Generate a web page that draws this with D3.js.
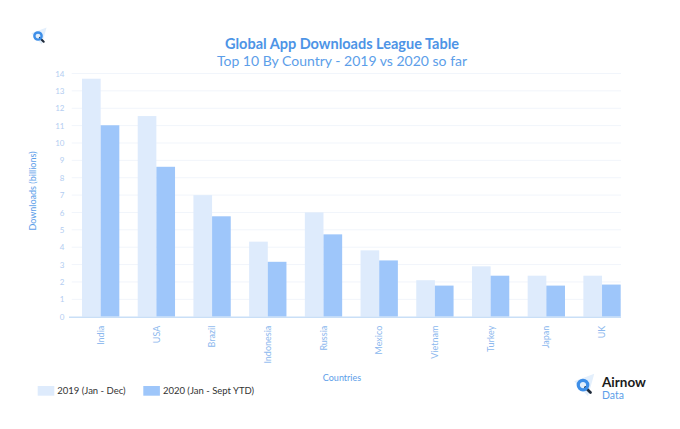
<!DOCTYPE html>
<html>
<head>
<meta charset="utf-8">
<script src="https://cdn.jsdelivr.net/npm/d3@7"></script>
<style>
  body { margin: 0; background: #fff; }
  svg { display: block; font-family: Lato, "Open Sans", sans-serif; }
</style>
</head>
<body>
<svg id="chart" width="680" height="429"></svg>
<script>
var countries = ["India", "USA", "Brazil", "Indonesia", "Russia", "Mexico", "Vietnam", "Turkey", "Japan", "UK"];
var series = ["2019 (Jan - Dec)", "2020 (Jan - Sept YTD)"];
var values2019 = [13.7, 11.55, 7.0, 4.32, 6.0, 3.82, 2.1, 2.9, 2.36, 2.36];
var values2020 = [11.02, 8.63, 5.78, 3.16, 4.74, 3.24, 1.79, 2.36, 1.79, 1.85];
var yTicks = d3.range(0, 15);

var colors = ["#deebfc", "#9ec6fa"];

var svg = d3.select("#chart");

var x = d3.scaleBand()
    .domain(countries)
    .range([71.7, 631])
    .paddingInner(0.33)
    .paddingOuter(0.185);
var x1 = d3.scaleBand()
    .domain([0, 1])
    .range([0, x.bandwidth()]);
var y = d3.scaleLinear()
    .domain([0, 14])
    .range([316.7, 73.5]);

// grid lines
svg.append("g")
    .selectAll("line")
    .data(yTicks.slice(1))
    .join("line")
    .attr("x1", 71.7)
    .attr("x2", 621)
    .attr("y1", function(d) { return y(d); })
    .attr("y2", function(d) { return y(d); })
    .attr("stroke", "#f1f5fb")
    .attr("stroke-width", 1);

// y axis labels
var yAxis = d3.axisLeft(y)
    .tickValues(yTicks)
    .tickSize(0)
    .tickPadding(0);
var yg = svg.append("g")
    .attr("transform", "translate(64.5,0)")
    .call(yAxis);
yg.select(".domain").remove();
yg.selectAll("text")
    .attr("fill", "#b3cdf1")
    .style("font-size", "8px")
    .style("font-family", "Lato, sans-serif");

// bars
var rows = countries.map(function(c, i) {
    return { country: c, vals: [values2019[i], values2020[i]] };
});
var groups = svg.append("g")
    .selectAll("g")
    .data(rows)
    .join("g")
    .attr("transform", function(d) { return "translate(" + x(d.country) + ",0)"; });
groups.selectAll("rect")
    .data(function(d) { return d.vals; })
    .join("rect")
    .attr("x", function(d, i) { return x1(i); })
    .attr("y", function(d) { return y(d); })
    .attr("width", x1.bandwidth())
    .attr("height", function(d) { return y(0) - y(d); })
    .attr("fill", function(d, i) { return colors[i]; });

// x axis
var xAxis = d3.axisBottom(x).tickSize(0).tickPadding(0);
var xg = svg.append("g")
    .attr("transform", "translate(0," + y(0) + ")")
    .call(xAxis);
xg.select(".domain").remove();
svg.append("line")
    .attr("x1", 69)
    .attr("x2", 621)
    .attr("y1", y(0) + 0.5)
    .attr("y2", y(0) + 0.5)
    .attr("stroke", "#c9dff7")
    .attr("stroke-width", 1.5);
xg.selectAll("text")
    .attr("transform", "translate(0,9) rotate(-90)")
    .attr("dy", "0.35em")
    .attr("x", 0)
    .attr("y", 0)
    .style("text-anchor", "end")
    .style("font-size", "9px")
    .style("font-family", "Lato, sans-serif")
    .attr("fill", "#8cb8ee");

// titles
svg.append("text")
    .attr("x", 342)
    .attr("y", 49)
    .attr("text-anchor", "middle")
    .style("font-size", "14.5px")
    .style("font-weight", "bold")
    .attr("fill", "#4d94e6")
    .text("Global App Downloads League Table");
svg.append("text")
    .attr("x", 342)
    .attr("y", 66)
    .attr("text-anchor", "middle")
    .style("font-size", "14px")
    .attr("fill", "#5c9ee9")
    .text("Top 10 By Country - 2019 vs 2020 so far");

svg.append("text")
    .attr("transform", "translate(35.5,191) rotate(-90)")
    .attr("text-anchor", "middle")
    .style("font-size", "9px")
    .attr("fill", "#5c9ee9")
    .text("Downloads (billions)");

svg.append("text")
    .attr("x", 342)
    .attr("y", 381)
    .attr("text-anchor", "middle")
    .style("font-size", "9px")
    .attr("fill", "#5c9ee9")
    .text("Countries");

// legend
var legendX = [37.7, 143.3];
var legend = svg.append("g")
    .selectAll("g")
    .data(series)
    .join("g")
    .attr("transform", function(d, i) { return "translate(" + legendX[i] + ",386)"; });
legend.append("rect")
    .attr("width", 16.6)
    .attr("height", 9.7)
    .attr("fill", function(d, i) { return colors[i]; });
legend.append("text")
    .attr("x", 19.6)
    .attr("y", 8.3)
    .style("font-size", "9.5px")
    .attr("fill", "#333")
    .text(function(d) { return d; });

// logos
var drawIcon = function(cx, cy, s) {
    var g = svg.append("g").attr("transform", "translate(" + cx + "," + cy + ") scale(" + s + ")");
    g.append("path")
        .attr("d", "M-7,-3 L9,-9 L4,9 Z")
        .attr("fill", "#e3effc");
    g.append("line")
        .attr("x1", 2).attr("y1", 2).attr("x2", 6).attr("y2", 6)
        .attr("stroke", "#1e2a3a").attr("stroke-width", 2.2)
        .attr("stroke-linecap", "round");
    g.append("circle")
        .attr("r", 3.8)
        .attr("fill", "none")
        .attr("stroke", "#3d8ee8")
        .attr("stroke-width", 2.6);
};
drawIcon(38, 36, 0.95);
drawIcon(583, 385, 1.25);

svg.append("text")
    .attr("x", 602)
    .attr("y", 387)
    .style("font-size", "13.5px")
    .style("font-weight", "bold")
    .attr("fill", "#1b1b1b")
    .text("Airnow");
svg.append("text")
    .attr("x", 602)
    .attr("y", 398.5)
    .style("font-size", "10.5px")
    .attr("fill", "#5c9ee9")
    .text("Data");
</script>
</body>
</html>
